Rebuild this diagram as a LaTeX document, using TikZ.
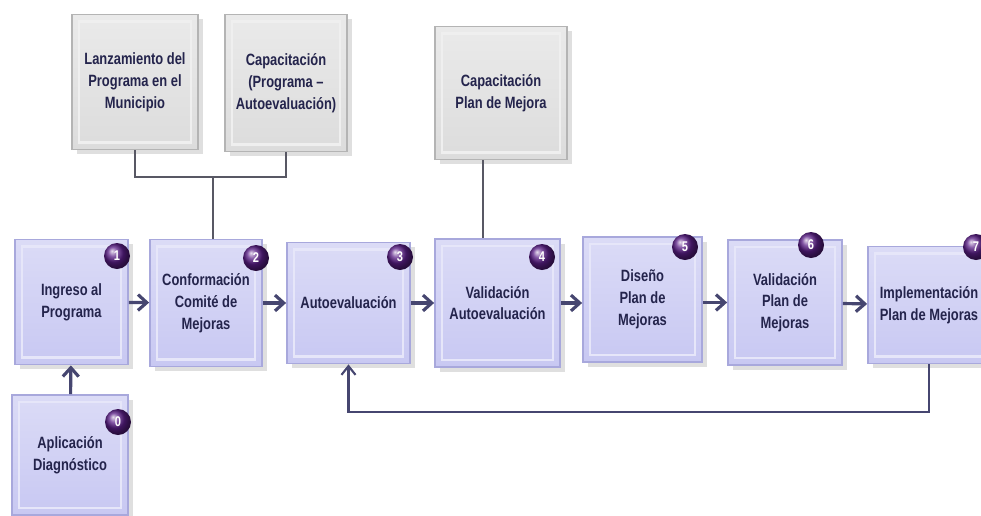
\documentclass[tikz,border=0pt]{standalone}
\usepackage{fontspec}
\setmainfont{Liberation Sans}[FakeStretch=0.79]
\usetikzlibrary{arrows.meta,shadows}

\definecolor{pasofill}{RGB}{200,200,242}
\definecolor{pasoedge}{RGB}{168,168,220}
\definecolor{grisfill}{RGB}{220,220,220}
\definecolor{grisedge}{RGB}{180,180,180}
\definecolor{texto}{RGB}{36,36,76}
\definecolor{flecha}{RGB}{70,70,112}
\definecolor{linea}{RGB}{88,88,100}
\definecolor{insignia}{RGB}{90,30,135}

\begin{document}
\begin{tikzpicture}[
    paso/.style={draw=pasoedge, line width=1pt, top color=pasofill!65!white, bottom color=pasofill,
                 minimum width=2.3cm, minimum height=2.5cm, align=center, text=texto,
                 font=\bfseries\fontsize{9.3}{12.4}\selectfont, drop shadow={opacity=0.25},
                 path picture={\draw[white!55!pasofill, line width=1.6pt]
                     ([shift={(4pt,-4pt)}]path picture bounding box.north west) rectangle
                     ([shift={(-4pt,4pt)}]path picture bounding box.south east);}},
    apoyo/.style={paso, draw=grisedge, top color=grisfill!60!white, bottom color=grisfill,
                  path picture={\draw[white!55!grisfill, line width=1.6pt]
                     ([shift={(4pt,-4pt)}]path picture bounding box.north west) rectangle
                     ([shift={(-4pt,4pt)}]path picture bounding box.south east);}},
    num/.style={circle, ball color=insignia, inner sep=0pt, minimum size=0.52cm,
                text=white, font=\bfseries\fontsize{8}{8}\selectfont},
    avance/.style={-{Straight Barb[length=5pt,width=9pt]}, line width=1.8pt, draw=flecha},
    retorno/.style={-{Straight Barb[length=5pt,width=8pt]}, line width=1.2pt, draw=flecha},
    enlace/.style={line width=1.2pt, draw=linea}
]
    \useasboundingbox (0,0) rectangle (19.62,-10.30);

    % pasos del programa
    \node[paso, minimum width=2.32cm, minimum height=2.4cm] (b0) at (1.40,-9.10) {Aplicación\\Diagnóstico};
    \node[paso, minimum width=2.26cm] (b1) at (1.43,-6.04) {Ingreso al\\Programa};
    \node[paso, minimum width=2.24cm, minimum height=2.54cm] (b2) at (4.12,-6.06) {Conformación\\Comité de\\Mejoras};
    \node[paso, minimum width=2.46cm, minimum height=2.42cm] (b3) at (6.97,-6.06) {Autoevaluación};
    \node[paso, minimum width=2.50cm, minimum height=2.56cm] (b4) at (9.95,-6.06) {Validación\\Autoevaluación};
    \node[paso, minimum width=2.38cm] (b5) at (12.85,-5.99) {Diseño\\Plan de\\Mejoras};
    \node[paso, minimum width=2.28cm] (b6) at (15.70,-6.05) {Validación\\Plan de\\Mejoras};
    \node[paso, minimum width=2.44cm, minimum height=2.34cm] (b7) at (18.58,-6.10) {Implementación\\Plan de Mejoras};

    % actividades de apoyo
    \node[apoyo, minimum width=2.52cm, minimum height=2.70cm] (tL) at (2.70,-1.64) {Lanzamiento del\\Programa en el\\Municipio};
    \node[apoyo, minimum width=2.44cm, minimum height=2.74cm] (tC) at (5.72,-1.66) {Capacitación\\(Programa –\\Autoevaluación)};
    \node[apoyo, minimum width=2.64cm, minimum height=2.66cm] (tP) at (10.02,-1.86) {Capacitación\\Plan de Mejora};

    % numeros
    \node[num] (n0) at (2.36,-8.44) {0};
    \node[num] (n1) at (2.34,-5.12) {1};
    \node[num] (n2) at (5.12,-5.16) {2};
    \node[num] (n3) at (8.00,-5.14) {3};
    \node[num] (n4) at (10.84,-5.14) {4};
    \node[num] (n5) at (13.70,-4.94) {5};
    \node[num] (n6) at (16.22,-4.90) {6};
    \node[num] (n7) at (19.52,-4.94) {7};

    % conectores
    \coordinate (j) at (4.26,-3.54);
    \coordinate (cp) at (9.66,-3.20);
    \coordinate (fb) at (10,-8.24);
    \draw[enlace] (tL.south) |- (j) -| (tC.south);
    \draw[enlace] (j) -- (j |- b2.north);
    \draw[enlace] (cp |- tP.south) -- (cp |- b4.north);

    \draw[avance] (b0) -- (b1);
    \draw[avance] (b1) -- (b2);
    \draw[avance] (b2) -- (b3);
    \draw[avance] (b3) -- (b4);
    \draw[avance] (b4.east) -- (b4.east -| b5.west);
    \draw[avance] (b5.east |- b6.west) -- (b6.west);
    \draw[avance] (b6) -- (b7);
    \draw[retorno] (b7.south) |- (fb) -| (b3.south);
\end{tikzpicture}
\end{document}
